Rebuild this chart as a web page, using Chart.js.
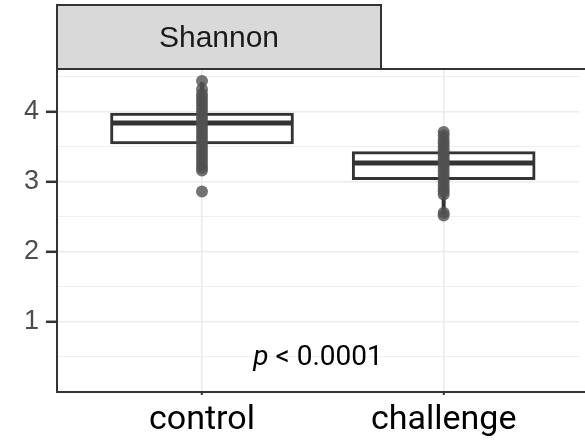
<!DOCTYPE html>
<html>
<head>
<meta charset="utf-8">
<script src="https://cdn.jsdelivr.net/npm/chart.js@4/dist/chart.umd.min.js"></script>
<style>
  html, body { margin: 0; padding: 0; background: #fff; }
  #wrap { width: 585px; height: 440px; }
</style>
</head>
<body>
<div id="wrap"><canvas id="chart" width="585" height="440"></canvas></div>
<script>
// Shannon diversity, control vs challenge
const categories = ["control", "challenge"]
const boxQ1 = [3.54, 3.03]
const boxMedian = [3.84, 3.27]
const boxQ3 = [3.98, 3.43]
const whiskerLow = [3.18, 2.53]
const whiskerHigh = [4.42, 3.71]
const controlPoints = [4.44, 4.32, 4.25, 4.2, 4.15, 4.1, 4.05, 4.0, 3.95, 3.9, 3.85, 3.8, 3.75, 3.7,
  3.65, 3.6, 3.55, 3.5, 3.45, 3.4, 3.35, 3.3, 3.25, 3.2, 3.16, 2.86]
const challengePoints = [3.71, 3.66, 3.6, 3.55, 3.5, 3.45, 3.4, 3.36, 3.32, 3.28, 3.25, 3.2, 3.15,
  3.1, 3.05, 3.0, 2.95, 2.9, 2.86, 2.82, 2.56, 2.52]
const yTicks = [0.5, 1, 1.5, 2, 2.5, 3, 3.5, 4, 4.5]
const panelTitle = "Shannon"
const pLabel = ["p", " < 0.0001"]

const BOX_HALF = 0.375
const DARK = "#333333"

const boxData = categories.map((c, i) => ({ x: i + 1, y: [boxQ1[i], boxQ3[i]] }))

const medianData = []
categories.forEach((c, i) => {
  if (i > 0) medianData.push({ x: i + 0.5, y: null })
  medianData.push({ x: i + 1 - BOX_HALF, y: boxMedian[i] })
  medianData.push({ x: i + 1 + BOX_HALF, y: boxMedian[i] })
})

const whiskerData = []
categories.forEach((c, i) => {
  whiskerData.push({ x: i + 1, y: boxQ3[i] }, { x: i + 1, y: whiskerHigh[i] }, { x: i + 1, y: null })
  whiskerData.push({ x: i + 1, y: boxQ1[i] }, { x: i + 1, y: whiskerLow[i] }, { x: i + 1, y: null })
})

const pointData = [
  ...controlPoints.map(v => ({ x: 1, y: v })),
  ...challengePoints.map(v => ({ x: 2, y: v }))
]

// facet strip, panel border lines and p-value label
const facetPlugin = {
  id: "facet",
  beforeDraw(chart) {
    const { ctx, chartArea } = chart
    ctx.save()
    ctx.fillStyle = "#d9d9d9"
    ctx.fillRect(chartArea.left, 5, 381 - chartArea.left, chartArea.top - 5)
    ctx.strokeStyle = DARK
    ctx.lineWidth = 2
    ctx.strokeRect(chartArea.left, 5, 381 - chartArea.left, chartArea.top - 5)
    ctx.fillStyle = "#1a1a1a"
    ctx.font = "30px 'Liberation Sans', Arial, sans-serif"
    ctx.textAlign = "center"
    ctx.textBaseline = "middle"
    ctx.fillText(panelTitle, (chartArea.left + 381) / 2, 39)
    ctx.restore()
  },
  afterDraw(chart) {
    const { ctx, chartArea, scales } = chart
    ctx.save()
    ctx.strokeStyle = DARK
    ctx.lineWidth = 2
    ctx.beginPath()
    ctx.moveTo(chartArea.right + 10, chartArea.top)
    ctx.lineTo(chartArea.left, chartArea.top)
    ctx.lineTo(chartArea.left, chartArea.bottom)
    ctx.lineTo(chartArea.right + 10, chartArea.bottom)
    ctx.stroke()

    const x = scales.x.getPixelForValue(1.48)
    const y = scales.y.getPixelForValue(0.39)
    ctx.fillStyle = "#000"
    ctx.textBaseline = "alphabetic"
    ctx.font = "italic 28px Roboto, sans-serif"
    const w1 = ctx.measureText(pLabel[0]).width
    ctx.font = "28px Roboto, sans-serif"
    const w2 = ctx.measureText(pLabel[1]).width
    const start = x - (w1 + w2) / 2
    ctx.textAlign = "left"
    ctx.font = "italic 28px Roboto, sans-serif"
    ctx.fillText(pLabel[0], start, y)
    ctx.font = "28px Roboto, sans-serif"
    ctx.fillText(pLabel[1], start + w1, y)
    ctx.restore()
  }
}

new Chart(document.getElementById("chart"), {
  type: "bar",
  data: {
    datasets: [
      {
        type: "bar",
        data: boxData,
        backgroundColor: "#ffffff",
        borderColor: DARK,
        borderWidth: 3,
        borderSkipped: false,
        barThickness: 183,
        order: 4
      },
      {
        type: "line",
        data: medianData,
        borderColor: DARK,
        borderWidth: 5,
        pointRadius: 0,
        spanGaps: false,
        order: 3
      },
      {
        type: "line",
        data: whiskerData,
        borderColor: DARK,
        borderWidth: 4,
        pointRadius: 0,
        spanGaps: false,
        order: 2
      },
      {
        type: "scatter",
        data: pointData,
        backgroundColor: "rgba(80, 80, 80, 0.8)",
        borderWidth: 0,
        pointRadius: 6,
        order: 1
      }
    ]
  },
  options: {
    responsive: false,
    animation: false,
    devicePixelRatio: 1,
    layout: { padding: { top: 69, right: 0, left: 0, bottom: 0 } },
    plugins: {
      legend: { display: false },
      tooltip: { enabled: false }
    },
    scales: {
      x: {
        type: "linear",
        min: 0.4,
        max: 2.56,
        offset: false,
        afterBuildTicks: scale => { scale.ticks = categories.map((c, i) => ({ value: i + 1 })) },
        afterFit: scale => {
          scale.height = 48
          scale.paddingLeft = 0
          scale.paddingRight = 0
        },
        ticks: {
          autoSkip: false,
          maxRotation: 0,
          padding: 5,
          color: "#000",
          font: { family: "Roboto", size: 34 },
          callback: v => categories[v - 1]
        },
        grid: {
          offset: false,
          color: "#ebebeb",
          lineWidth: 1.6,
          tickLength: 3,
          tickColor: DARK,
          tickWidth: 2
        },
        border: { display: false }
      },
      y: {
        type: "linear",
        min: 0,
        max: 4.61,
        afterBuildTicks: scale => { scale.ticks = yTicks.map(v => ({ value: v })) },
        afterFit: scale => { scale.width = 57 },
        ticks: {
          autoSkip: false,
          padding: 7,
          color: "#4d4d4d",
          font: { family: "'Liberation Sans', Arial, sans-serif", size: 27 },
          callback: v => Number.isInteger(v) ? String(v) : ""
        },
        grid: {
          color: "#ebebeb",
          lineWidth: c => Number.isInteger(c.tick && c.tick.value) ? 1.6 : 0.8,
          tickLength: 11,
          tickColor: c => Number.isInteger(c.tick && c.tick.value) ? DARK : "rgba(0,0,0,0)",
          tickWidth: 2.5
        },
        border: { display: false }
      }
    }
  },
  plugins: [facetPlugin]
})
</script>
</body>
</html>
